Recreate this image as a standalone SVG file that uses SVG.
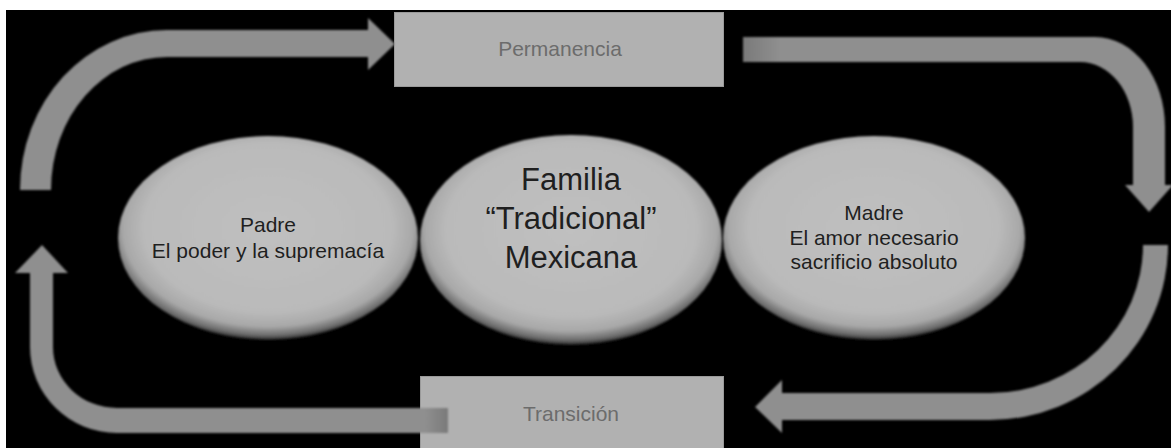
<svg xmlns="http://www.w3.org/2000/svg" width="1171" height="448" viewBox="0 0 1171 448">
<defs>
<style>
.box{fill:#b1b1b1;stroke:#9a9a9a;stroke-width:1}
.boxtxt{font-family:"Liberation Sans",Arial,sans-serif;font-size:21px;fill:#6c6c6c;text-anchor:middle}
.ell{fill:url(#eg);filter:url(#soft)}
.etxt{font-family:"Liberation Sans",Arial,sans-serif;font-size:21px;fill:#1f1f1f;text-anchor:middle}
.big{font-size:31px}
.arrow{fill:#8f8f8f;filter:url(#soft)}
</style>
<radialGradient id="eg" cx="0.5" cy="0.45" r="0.55">
<stop offset="0" stop-color="#c0c0c0"/>
<stop offset="0.75" stop-color="#bababa"/>
<stop offset="0.88" stop-color="#a8a8a8"/>
<stop offset="0.96" stop-color="#6a6a6a"/>
<stop offset="1" stop-color="#202020"/>
</radialGradient>
<linearGradient id="g2" gradientUnits="userSpaceOnUse" x1="743" y1="0" x2="780" y2="0">
<stop offset="0" stop-color="#7a7a7a"/>
<stop offset="1" stop-color="#8f8f8f"/>
</linearGradient>
<linearGradient id="g4" gradientUnits="userSpaceOnUse" x1="448" y1="0" x2="425" y2="0">
<stop offset="0" stop-color="#7a7a7a"/>
<stop offset="1" stop-color="#8f8f8f"/>
</linearGradient>
<filter id="soft" x="-5%" y="-5%" width="110%" height="110%">
<feGaussianBlur stdDeviation="1"/>
</filter>
</defs>
<rect x="0" y="0" width="1171" height="448" fill="#ffffff"/>
<rect x="6" y="10" width="1165" height="438" fill="#000000"/>

<g id="permanencia">
<rect class="box" x="394.5" y="12.5" width="329" height="74"/>
<text class="boxtxt" x="560" y="56">Permanencia</text>
</g>
<g id="transicion">
<rect class="box" x="420.5" y="376.5" width="303" height="80"/>
<text class="boxtxt" x="571" y="421">Transición</text>
</g>
<g id="padre">
<ellipse class="ell" cx="268" cy="238" rx="150" ry="102"/>
<text class="etxt" x="268" y="232">Padre</text>
<text class="etxt" x="268" y="258">El poder y la supremacía</text>
</g>
<g id="familia">
<ellipse class="ell" cx="571" cy="240" rx="151" ry="105"/>
<text class="etxt big" x="571" y="190">Familia</text>
<text class="etxt big" x="571" y="229">“Tradicional”</text>
<text class="etxt big" x="571" y="268">Mexicana</text>
</g>
<g id="madre">
<ellipse class="ell" cx="874" cy="238" rx="151" ry="102"/>
<text class="etxt" x="874" y="220">Madre</text>
<text class="etxt" x="874" y="245">El amor necesario</text>
<text class="etxt" x="874" y="269">sacrificio absoluto</text>
</g>

<g id="connectors">
<path class="arrow" d="M 20 190 A 147 160 0 0 1 167 30 L 368 30 L 368 18 L 395 44 L 368 70 L 368 57 L 167 57 A 116 133 0 0 0 51 190 Z"/>
<path class="arrow" style="fill:url(#g2)" d="M 743 37 L 1095 37 A 70 90 0 0 1 1165 127 L 1165 185 L 1173 185 L 1149 212 L 1125 185 L 1133 185 L 1133 127 A 53 65 0 0 0 1080 62 L 743 62 Z"/>
<path class="arrow" d="M 1168 245 A 178 175 0 0 1 990 420 L 782 420 L 782 433 L 755 407 L 782 380 L 782 393 L 990 393 A 153 148 0 0 0 1143 245 Z"/>
<path class="arrow" style="fill:url(#g4)" d="M 448 408 L 117 408 A 64 61 0 0 1 53 347 L 53 273 L 68 273 L 42 245 L 15 273 L 30 273 L 30 347 A 87 86 0 0 0 117 433 L 448 433 Z"/>
</g>
</svg>
